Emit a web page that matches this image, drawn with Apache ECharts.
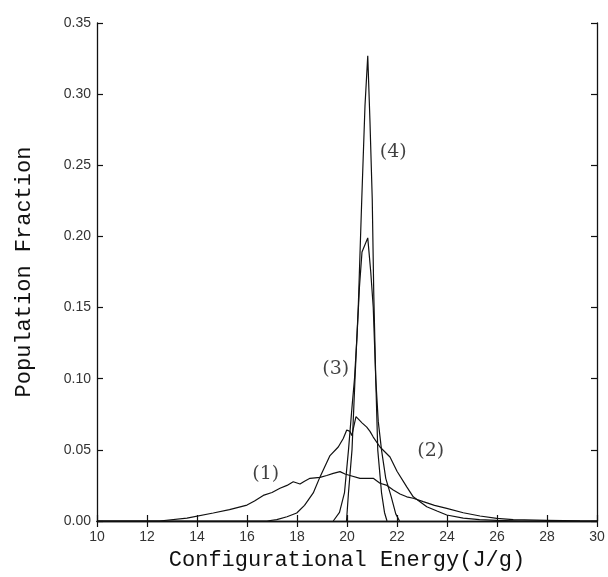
<!DOCTYPE html>
<html>
<head>
<meta charset="utf-8">
<script src="https://cdn.jsdelivr.net/npm/echarts@6/dist/echarts.min.js"></script>
<style>
  html, body { margin: 0; padding: 0; background: #fff; }
  #chart { width: 608px; height: 577px; }
</style>
</head>
<body>
<div id="chart"></div>
<script>
// curve (1)
const energy1 = [10, 12.5, 13.6, 14.65, 15.3, 16.0, 16.3, 16.65, 17.0, 17.32, 17.6, 17.85, 18.12, 18.3, 18.52, 18.92, 19.19, 19.45, 19.72, 19.92, 20.12, 20.52, 20.92, 21.05, 21.32, 21.6, 21.85, 22.12, 22.39, 22.65, 23.05, 23.5, 23.99, 24.65, 25.32, 25.99, 26.65, 27.99, 29.32, 30];
const frac1 = [0, 0, 0.002, 0.0056, 0.008, 0.0112, 0.014, 0.018, 0.020, 0.023, 0.025, 0.0276, 0.026, 0.028, 0.030, 0.0307, 0.032, 0.0335, 0.0347, 0.033, 0.032, 0.030, 0.030, 0.030, 0.0265, 0.025, 0.0218, 0.019, 0.017, 0.016, 0.0136, 0.011, 0.0089, 0.0058, 0.0035, 0.0019, 0.0009, 0.0005, 0.0001, 0];

// curve (2)
const energy2 = [10, 16.8, 17.19, 17.6, 17.99, 18.3, 18.65, 18.92, 19.32, 19.65, 19.85, 19.99, 20.12, 20.19, 20.36, 20.6, 20.79, 20.92, 21.05, 21.32, 21.72, 22.0, 22.39, 22.65, 23.19, 23.6, 23.99, 24.65, 25.3, 25.99, 27, 30];
const frac2 = [0, 0, 0.001, 0.003, 0.0056, 0.011, 0.0197, 0.031, 0.046, 0.052, 0.058, 0.064, 0.063, 0.060, 0.0733, 0.069, 0.066, 0.063, 0.059, 0.052, 0.045, 0.035, 0.024, 0.017, 0.010, 0.007, 0.0042, 0.002, 0.001, 0.0005, 0, 0];

// curve (3)
const energy3 = [19.45, 19.7, 19.9, 20.06, 20.2, 20.3, 20.4, 20.5, 20.6, 20.83, 20.95, 21.05, 21.15, 21.25, 21.38, 21.55, 21.77, 21.95, 22.1];
const frac3 = [0, 0.006, 0.02, 0.05, 0.08, 0.10, 0.13, 0.165, 0.189, 0.199, 0.175, 0.15, 0.10, 0.07, 0.05, 0.03, 0.017, 0.005, 0];

// curve (4)
const energy4 = [19.98, 20.06, 20.2, 20.32, 20.45, 20.59, 20.72, 20.83, 20.92, 21.01, 21.07, 21.15, 21.23, 21.38, 21.5, 21.6];
const frac4 = [0, 0.02, 0.05, 0.10, 0.15, 0.226, 0.292, 0.327, 0.28, 0.226, 0.16, 0.10, 0.05, 0.02, 0.006, 0];

// curve labels
const labelText = ['(1)', '(2)', '(3)', '(4)'];
const labelX = [16.75, 23.35, 19.55, 21.85];
const labelY = [0.033, 0.049, 0.107, 0.259];

const zip = (xs, ys) => xs.map((x, i) => [x, ys[i]]);

const chart = echarts.init(document.getElementById('chart'));

const lineSeries = [
  [energy1, frac1],
  [energy2, frac2],
  [energy3, frac3],
  [energy4, frac4]
].map(([xs, ys]) => ({
  type: 'line',
  data: zip(xs, ys),
  showSymbol: false,
  lineStyle: { color: '#111', width: 1.2 },
  silent: true
}));

const tickLabel = { color: '#333', fontFamily: 'Liberation Sans', fontSize: 14 };
const axisLine = { show: true, lineStyle: { color: '#111', width: 1.3 } };
const axisTick = { show: true, inside: true, length: 6, lineStyle: { color: '#111', width: 1.2 } };
const titleFont = { fontFamily: 'Liberation Mono', fontSize: 22, color: '#111' };

const option = {
  animation: false,
  backgroundColor: '#fff',
  grid: { left: 97, right: 11, top: 23, bottom: 56 },
  xAxis: [
    {
      type: 'value', min: 10, max: 30, interval: 2,
      axisLine, axisTick, splitLine: { show: false },
      axisLabel: { ...tickLabel, margin: 9 },
      name: 'Configurational Energy(J/g)',
      nameLocation: 'middle', nameGap: 28,
      nameTextStyle: titleFont
    },
    {
      type: 'value', min: 10, max: 30, interval: 2, position: 'top',
      axisLine, axisTick, splitLine: { show: false }, axisLabel: { show: false }
    }
  ],
  yAxis: [
    {
      type: 'value', min: 0, max: 0.35, interval: 0.05,
      axisLine, axisTick, splitLine: { show: false },
      axisLabel: { ...tickLabel, margin: 6, formatter: v => v.toFixed(2) },
      name: 'Population Fraction',
      nameLocation: 'middle', nameGap: 62,
      nameTextStyle: titleFont
    },
    {
      type: 'value', min: 0, max: 0.35, interval: 0.05, position: 'right',
      axisLine, axisTick, splitLine: { show: false }, axisLabel: { show: false }
    }
  ],
  series: [
    ...lineSeries,
    {
      type: 'scatter',
      symbolSize: 0,
      silent: true,
      data: labelX.map((x, i) => ({ value: [x, labelY[i]], name: labelText[i] })),
      label: {
        show: true, position: 'inside',
        formatter: p => p.name,
        fontFamily: 'DejaVu Serif', fontSize: 19, color: '#111'
      }
    }
  ]
};

chart.setOption(option);
</script>
</body>
</html>
